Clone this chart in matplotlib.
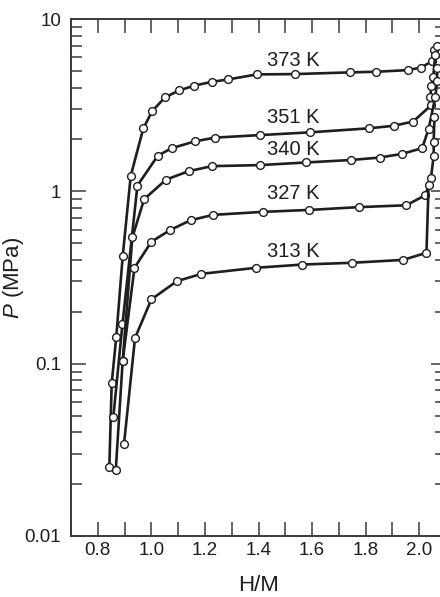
import matplotlib
matplotlib.use("Agg")
import matplotlib.pyplot as plt
from matplotlib.ticker import MultipleLocator, FixedLocator, FuncFormatter, NullFormatter
import numpy as np

plt.rcParams['font.family'] = ['Liberation Sans', 'DejaVu Sans']
plt.rcParams['mathtext.fontset'] = 'custom'
plt.rcParams['mathtext.it'] = 'Liberation Sans:italic'
plt.rcParams['mathtext.rm'] = 'Liberation Sans'

# ---- data ----
h_373 = [0.843, 0.852, 0.869, 0.893, 0.923, 0.970, 1.003, 1.051, 1.104, 1.161, 1.227, 1.287,
         1.394, 1.536, 1.741, 1.837, 1.957, 2.007, 2.048, 2.054, 2.067]
p_373 = [0.025, 0.077, 0.143, 0.42, 1.23, 2.32, 2.92, 3.51, 3.85, 4.11, 4.32, 4.46,
         4.77, 4.79, 4.90, 4.94, 5.05, 5.23, 5.69, 6.63, 7.0]

h_351 = [0.858, 0.892, 0.948, 1.024, 1.076, 1.163, 1.238, 1.406, 1.593, 1.811, 1.904, 1.977,
         2.044, 2.042, 2.044, 2.052, 2.060]
p_351 = [0.049, 0.169, 1.08, 1.61, 1.78, 1.95, 2.05, 2.12, 2.20, 2.32, 2.40, 2.54,
         3.15, 3.52, 4.06, 4.58, 6.2]

h_340 = [0.867, 0.893, 0.929, 0.973, 1.055, 1.140, 1.226, 1.406, 1.576, 1.745, 1.852, 1.936,
         2.011, 2.035, 2.060, 2.067, 2.067]
p_340 = [0.024, 0.104, 0.54, 0.90, 1.17, 1.31, 1.40, 1.42, 1.47, 1.52, 1.57, 1.65,
         1.78, 2.30, 3.52, 4.34, 5.19]

h_327 = [0.893, 0.937, 1.000, 1.070, 1.147, 1.230, 1.415, 1.590, 1.776, 1.952, 2.023, 2.044,
         2.054, 2.054, 2.057]
p_327 = [0.104, 0.36, 0.51, 0.596, 0.68, 0.73, 0.76, 0.78, 0.81, 0.83, 0.95, 1.20,
         1.61, 1.94, 2.69]

h_313 = [0.898, 0.939, 1.000, 1.095, 1.187, 1.390, 1.564, 1.749, 1.940, 2.027, 2.035]
p_313 = [0.0343, 0.141, 0.236, 0.301, 0.332, 0.36, 0.376, 0.385, 0.40, 0.44, 1.09]

labels = ["373 K", "351 K", "340 K", "327 K", "313 K"]
label_x = [1.53, 1.53, 1.53, 1.53, 1.53]
label_y = [5.72, 2.68, 1.75, 0.97, 0.446]

x_ticks_major = [0.8, 1.0, 1.2, 1.4, 1.6, 1.8, 2.0]
y_ticks_major = [0.01, 0.1, 1, 10]
y_tick_labels = ["0.01", "0.1", "1", "10"]

series = [(h_373, p_373), (h_351, p_351), (h_340, p_340), (h_327, p_327), (h_313, p_313)]

# ---- figure ----
fig = plt.figure(figsize=(4.4, 5.97), dpi=100)
ax = fig.add_axes([71/440, 1 - 536/597, (446 - 71)/440, (536 - 19)/597])

ink = '#1e1e1e'
for h, p in series:
    ax.plot(h, p, '-', color=ink, lw=1.9, marker='o', ms=5.6,
            mfc='white', mec=ink, mew=1.0, zorder=3)

for t, x, y in zip(labels, label_x, label_y):
    ax.text(x, y, t, ha='center', va='center', fontsize=14.5, color=ink, zorder=4)

ax.set_yscale('log')
ax.set_xlim(0.7, 2.1)
ax.set_ylim(0.01, 10)

ax.xaxis.set_major_locator(FixedLocator(x_ticks_major))
ax.xaxis.set_minor_locator(MultipleLocator(0.1))
ax.xaxis.set_major_formatter(FuncFormatter(lambda v, pos: f"{v:.1f}"))
ax.yaxis.set_major_locator(FixedLocator(y_ticks_major))


def yfmt(v, pos):
    i = int(np.argmin([abs(np.log10(t) - np.log10(v)) for t in y_ticks_major]))
    return y_tick_labels[i]


ax.yaxis.set_major_formatter(FuncFormatter(yfmt))
ax.yaxis.set_minor_locator(FixedLocator([m * 10.0**e for e in (-2, -1, 0) for m in range(2, 10)]))
ax.yaxis.set_minor_formatter(NullFormatter())

spine_c = '#3a3a3a'
for s in ax.spines.values():
    s.set_color(spine_c)
    s.set_linewidth(1.4)

ax.tick_params(axis='x', which='both', direction='in', top=True, bottom=True,
               length=10, width=1.1, color=spine_c, labelsize=13.5, pad=4, labelcolor=ink)
ax.tick_params(axis='y', which='major', direction='in', left=True, right=True,
               length=11, width=1.1, color=spine_c, labelsize=13.5, pad=7, labelcolor=ink)
ax.tick_params(axis='y', which='minor', direction='in', left=True, right=True,
               length=8, width=1.1, color=spine_c)

ax.set_xlabel("H/M", fontsize=16, color=ink, labelpad=12)
ax.set_ylabel("$P$ (MPa)", fontsize=16, color=ink)
ax.yaxis.set_label_coords((26 - 71) / 375, 0.5)

fig.savefig("out.png", dpi=100)
